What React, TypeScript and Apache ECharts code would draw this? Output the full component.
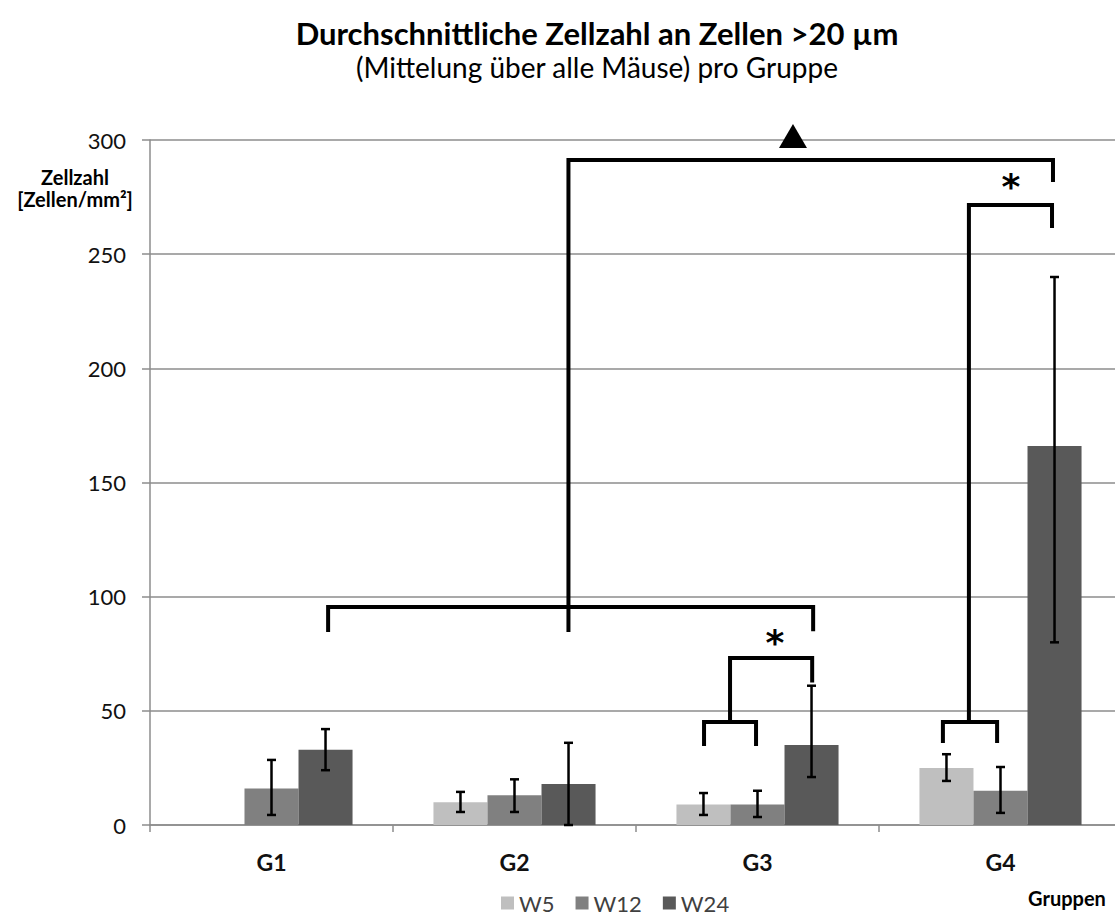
import React, { useEffect, useRef } from "react";
import * as echarts from "echarts";

const categories = ["G1", "G2", "G3", "G4"];
const seriesNames = ["W5", "W12", "W24"];
const seriesColors = ["#bfbfbf", "#808080", "#595959"];
const w5Values = [0, 10, 9, 25];
const w12Values = [16, 13, 9, 15];
const w24Values = [33, 18, 35, 166];
const w5Err: ([number, number] | null)[] = [null, [5.7, 14.5], [4.4, 14], [19.3, 31]];
const w12Err: ([number, number] | null)[] = [[4.4, 28.5], [5.7, 20], [3.5, 15], [5.3, 25.4]];
const w24Err: ([number, number] | null)[] = [[24, 42], [0, 36], [21, 61], [80, 240]];
const yTicks = [0, 50, 100, 150, 200, 250, 300];

// significance brackets: points as [category position, value]
const brackets: [number, number][][] = [
  [[1.222, 84.5], [1.222, 291.2], [3.216, 291.2], [3.216, 281.6]],
  [[0.233, 84.5], [0.233, 95.5], [2.229, 95.5], [2.229, 84.8]],
  [[1.78, 34.6], [1.78, 45.1], [1.994, 45.1], [1.994, 34.6]],
  [[1.887, 45.1], [1.887, 73.1], [2.225, 73.1], [2.225, 62.4]],
  [[2.763, 35.9], [2.763, 45.1], [2.986, 45.1], [2.986, 35.9]],
  [[2.87, 45.1], [2.87, 271.5], [3.212, 271.5], [3.212, 261.5]],
];
const asterisks: [number, number][] = [[2.072, 81.5], [3.043, 281.6]];
const triangleMark: [number, number] = [2.146, 301.8];

const FONT = "Lato, 'Open Sans', sans-serif";
const GAP = 0.333;

export default function App() {
  const ref = useRef<HTMLDivElement>(null);
  useEffect(() => {
    if (!ref.current) return;
    const chart = echarts.init(ref.current, undefined, { renderer: "svg" });
    const vals = [w5Values, w12Values, w24Values];
    const errs = [w5Err, w12Err, w24Err];
    const errData: number[][] = [];
    errs.forEach((arr, si) =>
      arr.forEach((e, ci) => {
        if (e) errData.push([ci, si, e[0], e[1]]);
      })
    );
    const annData = brackets.map((_, i) => [i]);

    chart.setOption({
      animation: false,
      textStyle: { fontFamily: FONT },
      grid: { left: 150, top: 140, width: 972, height: 685 },
      legend: {
        data: seriesNames,
        left: 496,
        top: 887,
        icon: "rect",
        itemWidth: 13,
        itemHeight: 13,
        itemGap: 21,
        textStyle: { fontSize: 22, lineHeight: 22, color: "#404040", fontFamily: FONT },
      },
      xAxis: {
        type: "category",
        data: categories,
        axisLine: { lineStyle: { color: "#8c8c8c", width: 1.5 } },
        axisTick: { show: true, length: 7, lineStyle: { color: "#8c8c8c", width: 1.5 } },
        axisLabel: { fontSize: 23, fontWeight: "bold", color: "#111", margin: 25, fontFamily: FONT },
      },
      yAxis: {
        type: "value",
        min: 0,
        max: 300,
        interval: 50,
        axisLine: { show: true, lineStyle: { color: "#8c8c8c", width: 1.5 } },
        axisTick: { show: true, length: 8, lineStyle: { color: "#8c8c8c", width: 1.5 } },
        axisLabel: { fontSize: 22, color: "#111", margin: 24, fontFamily: FONT },
        splitLine: { lineStyle: { color: "#8c8c8c", width: 1.5 } },
      },
      series: [
        ...vals.map((v, i) => ({
          name: seriesNames[i],
          type: "bar",
          data: v,
          barGap: "0%",
          barCategoryGap: GAP * 100 + "%",
          itemStyle: { color: seriesColors[i] },
        })),
        {
          type: "custom",
          name: "err",
          data: errData,
          encode: { x: 0, y: [2, 3] },
          z: 5,
          renderItem: (params: any, api: any) => {
            const ci = api.value(0);
            const si = api.value(1);
            const band = api.size([1, 0])[0];
            const bw = (band * (1 - GAP)) / 3;
            const x = api.coord([ci, 0])[0] + (si - 1) * bw;
            const yl = api.coord([ci, api.value(2)])[1];
            const yh = api.coord([ci, api.value(3)])[1];
            const st = { stroke: "#000", lineWidth: 2.5 };
            const c = 4.5;
            return {
              type: "group",
              children: [
                { type: "line", shape: { x1: x, y1: yl, x2: x, y2: yh }, style: st },
                { type: "line", shape: { x1: x - c, y1: yl, x2: x + c, y2: yl }, style: st },
                { type: "line", shape: { x1: x - c, y1: yh, x2: x + c, y2: yh }, style: st },
              ],
            };
          },
        },
        {
          type: "custom",
          name: "sig",
          data: annData,
          clip: false,
          z: 6,
          renderItem: (params: any, api: any) => {
            const idx = api.value(0);
            const band = api.size([1, 0])[0];
            const px = (p: [number, number]) => {
              const c = api.coord([0, p[1]]);
              return [c[0] + p[0] * band, c[1]];
            };
            const children: any[] = [
              {
                type: "polyline",
                shape: { points: brackets[idx].map(px) },
                style: { stroke: "#000", lineWidth: 4, fill: null, lineJoin: "miter" },
              },
            ];
            if (idx === 0) {
              const t = px(triangleMark);
              children.push({
                type: "polygon",
                shape: { points: [[t[0], t[1] - 12], [t[0] + 14, t[1] + 12], [t[0] - 14, t[1] + 12]] },
                style: { fill: "#000" },
              });
              asterisks.forEach((a) => {
                const p = px(a);
                children.push({
                  type: "text",
                  style: {
                    text: "*",
                    x: p[0],
                    y: p[1] + 4,
                    textAlign: "center",
                    textVerticalAlign: "middle",
                    font: "bold 36px 'DejaVu Sans'",
                    fill: "#000",
                  },
                });
              });
            }
            return { type: "group", children };
          },
        },
      ],
      graphic: [
        {
          type: "text",
          x: 597,
          y: 33,
          style: {
            text: "Durchschnittliche Zellzahl an Zellen >20 µm",
            font: "bold 31px " + FONT,
            fill: "#000",
            textAlign: "center",
            textVerticalAlign: "middle",
          },
        },
        {
          type: "text",
          x: 597,
          y: 67,
          style: {
            text: "(Mittelung über alle Mäuse) pro Gruppe",
            font: "28px " + FONT,
            fill: "#000",
            textAlign: "center",
            textVerticalAlign: "middle",
          },
        },
        {
          type: "text",
          x: 75,
          y: 177,
          style: { text: "Zellzahl", font: "bold 20px " + FONT, fill: "#000", textAlign: "center", textVerticalAlign: "middle" },
        },
        {
          type: "text",
          x: 75,
          y: 199,
          style: { text: "[Zellen/mm²]", font: "bold 20px " + FONT, fill: "#000", textAlign: "center", textVerticalAlign: "middle" },
        },
        {
          type: "text",
          x: 1067,
          y: 898,
          style: { text: "Gruppen", font: "bold 20px " + FONT, fill: "#000", textAlign: "center", textVerticalAlign: "middle" },
        },
      ],
    });
    return () => chart.dispose();
  }, []);
  return (
    <div
      style={{ position: "absolute", left: 0, top: 0, width: 1115, height: 916, overflow: "hidden", background: "#fff" }}
    >
      <div ref={ref} style={{ position: "absolute", left: 0, top: 0, width: 1130, height: 916 }} />
    </div>
  );
}
